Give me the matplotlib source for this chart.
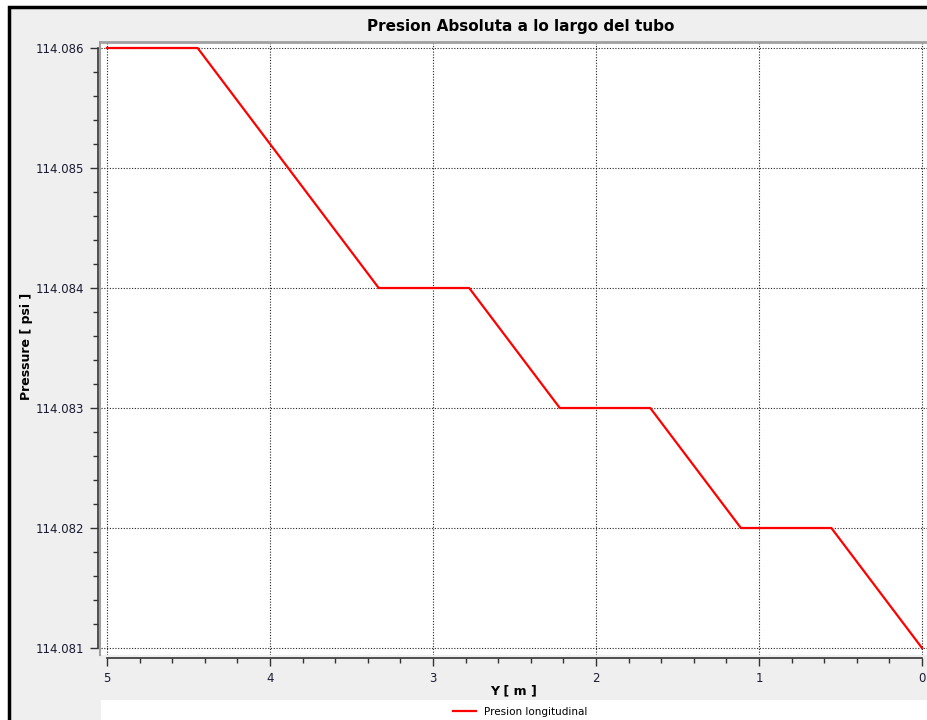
# pressure along the tube, qwt-style plot

import matplotlib.pyplot as plt
from matplotlib.lines import Line2D
from matplotlib.patches import Rectangle
from matplotlib.ticker import AutoMinorLocator, FormatStrFormatter

y_pos = [5, 4.444, 3.333, 2.778, 2.222, 1.667, 1.111, 0.556, 0]
pressure = [114.086, 114.086, 114.084, 114.084, 114.083, 114.083, 114.082, 114.082, 114.081]
x_ticks = [5, 4, 3, 2, 1, 0]
y_ticks = [114.081, 114.082, 114.083, 114.084, 114.085, 114.086]

W, H = 928, 720
fig = plt.figure(figsize=(W / 100, H / 100), dpi=100, facecolor='white')


def fx(px):
    return px / W


def fy(py):
    return 1 - py / H


# gray window with black border (only left and top edges visible)
fig.add_artist(Rectangle((fx(9), -1), 2, 1 + fy(7), transform=fig.transFigure,
                         facecolor='#efefef', edgecolor='black', lw=2.5, zorder=-10))
# white legend strip
fig.add_artist(Rectangle((fx(101), 0), 1, fy(700), transform=fig.transFigure,
                         facecolor='white', edgecolor='none', zorder=-5))

ax = fig.add_axes([fx(101), fy(655), fx(928 - 101), (655 - 42) / H])
ax.set_facecolor('white')

ax.plot(y_pos, pressure, color='#ff0000', lw=1.6, label='Presion longitudinal', zorder=3)

x0, x1 = 5 + 6 / 815 * 5, 0 - 6 / 815 * 5
ax.set_xlim(x0, x1)
ax.set_ylim(114.081 - 7 / 600 * 0.005, 114.086 + 6 / 600 * 0.005)

ax.set_xticks(x_ticks)
ax.set_yticks(y_ticks)
ax.xaxis.set_minor_locator(AutoMinorLocator(5))
ax.yaxis.set_minor_locator(AutoMinorLocator(5))
ax.yaxis.set_major_formatter(FormatStrFormatter('%.3f'))
ax.xaxis.set_major_formatter(FormatStrFormatter('%d'))

ax.grid(which='major', linestyle=(0, (1, 1.5)), color='#222222', lw=0.8)

ax.spines['right'].set_visible(False)
ax.spines['top'].set_color('#a0a0a0')
ax.spines['top'].set_linewidth(2)
ax.spines['left'].set_position(('outward', 2.5))
ax.spines['left'].set_bounds(114.081, 114.086)
ax.spines['left'].set_color('#333333')
ax.spines['left'].set_linewidth(1.2)
ax.spines['bottom'].set_position(('outward', 2.5))
ax.spines['bottom'].set_bounds(0, 5)
ax.spines['bottom'].set_color('#333333')
ax.spines['bottom'].set_linewidth(1.2)

ax.tick_params(which='major', length=6, width=1, color='#333333', labelsize=8.5,
               labelcolor='#1a1a33')
ax.tick_params(which='minor', length=3.5, width=1, color='#333333')

# gray canvas border on the left
fig.add_artist(Line2D([fx(100.5), fx(100.5)], [fy(655), fy(42)], transform=fig.transFigure,
                      color='#a0a0a0', lw=1.5))

fig.text(fx(521), fy(27), 'Presion Absoluta a lo largo del tubo', ha='center', va='center',
         fontsize=11, fontweight='bold', color='black')
fig.text(fx(514), fy(691), 'Y [ m ]', ha='center', va='center', fontsize=9, fontweight='bold')
fig.text(fx(27), fy(346), 'Pressure [ psi ]', ha='center', va='center', rotation=90,
         fontsize=9, fontweight='bold')

fig.legend(loc='center', bbox_to_anchor=(fx(520), fy(712)), frameon=False, fontsize=7.5,
           handlelength=2.2, borderpad=0, handletextpad=0.8)

plt.savefig('out.png', dpi=100, facecolor=fig.get_facecolor())
